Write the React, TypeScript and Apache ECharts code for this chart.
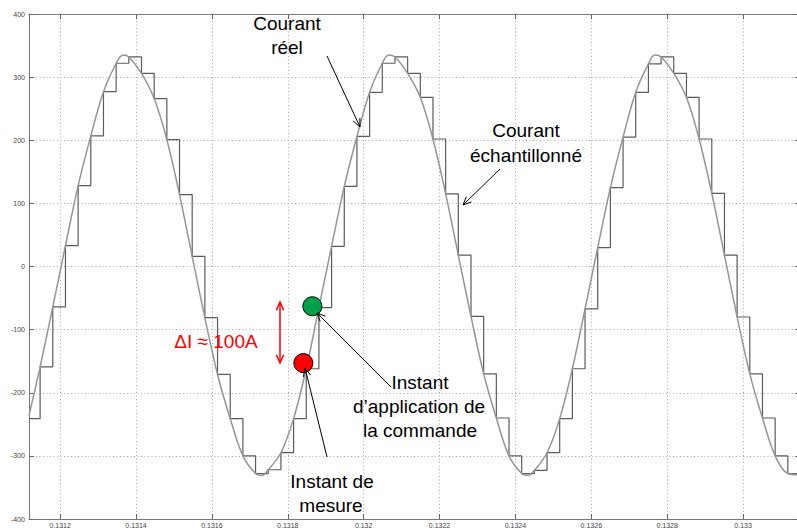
import React, { useEffect, useRef } from "react";
import * as echarts from "echarts";

// Axis extent (seconds / amperes)
const xMin = 0.131118;
const xMax = 0.13315;
const xStep = 0.0002;
const yMin = -400;
const yMax = 400;
const yStep = 100;

// Sampled current (zero-order hold): sampling instants and held values
const sampleTimes = [
  0.131118, 0.1311473, 0.1311807, 0.1312141, 0.1312475, 0.1312809, 0.1313143, 0.1313477,
  0.1313811, 0.1314145, 0.1314479, 0.1314813, 0.1315147, 0.1315481, 0.1315815, 0.1316149,
  0.1316483, 0.1316817, 0.1317151, 0.1317485, 0.1317819, 0.1318153, 0.1318487, 0.1318821,
  0.1319155, 0.1319489, 0.1319823, 0.1320157, 0.1320491, 0.1320825, 0.1321159, 0.1321493,
  0.1321827, 0.1322161, 0.1322495, 0.1322829, 0.1323163, 0.1323497, 0.1323831, 0.1324165,
  0.1324499, 0.1324833, 0.1325167, 0.1325501, 0.1325835, 0.1326169, 0.1326503, 0.1326837,
  0.1327171, 0.1327505, 0.1327839, 0.1328173, 0.1328507, 0.1328841, 0.1329175, 0.1329509,
  0.1329843, 0.1330177, 0.1330511, 0.1330845, 0.1331179, 0.13315,
];
const sampledValues = [
  -241, -159, -64, 33, 128, 207, 277, 322,
  332, 306, 266, 201, 114, 16, -81, -171,
  -241, -300, -328, -322, -295, -241, -162, -65,
  32, 127, 206, 276, 322, 332, 306, 268,
  202, 115, 18, -79, -170, -240, -300, -328,
  -323, -295, -241, -162, -67, 30, 125, 205,
  276, 321, 332, 306, 268, 202, 116, 18,
  -80, -170, -240, -300, -328, -328,
];

const realTimes = [
  0.131118, 0.1311473, 0.1311807, 0.1312141, 0.1312475, 0.1312809, 0.1313143, 0.1313477, 0.131366,
  0.1313811, 0.1314145, 0.1314479, 0.1314813, 0.1315147, 0.1315481, 0.1315815, 0.1316149,
  0.1316483, 0.1316817, 0.1317151, 0.1317318, 0.1317485, 0.1317819, 0.1318153, 0.1318487, 0.1318821,
  0.1319155, 0.1319489, 0.1319823, 0.1320157, 0.1320491, 0.1320658, 0.1320825, 0.1321159, 0.1321493,
  0.1321827, 0.1322161, 0.1322495, 0.1322829, 0.1323163, 0.1323497, 0.1323831, 0.1324165, 0.1324332,
  0.1324499, 0.1324833, 0.1325167, 0.1325501, 0.1325835, 0.1326169, 0.1326503, 0.1326837,
  0.1327171, 0.1327505, 0.1327672, 0.1327839, 0.1328173, 0.1328507, 0.1328841, 0.1329175, 0.1329509,
  0.1329843, 0.1330177, 0.1330511, 0.1330845, 0.1331179, 0.13315,
];
const realValues = [
  -236, -159, -64, 33, 128, 207, 277, 322, 335,
  332, 306, 266, 201, 114, 16, -81, -171,
  -241, -300, -328, -331, -322, -295, -241, -162, -65,
  32, 127, 206, 276, 322, 335, 332, 306, 268,
  202, 115, 18, -79, -170, -240, -300, -328, -331,
  -323, -295, -241, -162, -67, 30, 125, 205,
  276, 321, 335, 332, 306, 268, 202, 116, 18,
  -80, -170, -240, -300, -328, -330,
];

// Highlighted instants [time, current]
const measurePoint = [0.1318411, -153];
const commandPoint = [0.1318648, -63];

const FONT = "'Liberation Sans', Arial, sans-serif";

function arrowHead(x1: number, y1: number, x2: number, y2: number, L = 9, s = 0.42) {
  const a = Math.atan2(y2 - y1, x2 - x1);
  return [
    [x2 - L * Math.cos(a - s), y2 - L * Math.sin(a - s)],
    [x2, y2],
    [x2 - L * Math.cos(a + s), y2 - L * Math.sin(a + s)],
  ];
}

function arrow(x1: number, y1: number, x2: number, y2: number, color = "#000", width = 1) {
  return [
    { type: "line", z: 100, shape: { x1, y1, x2, y2 }, style: { stroke: color, lineWidth: width } },
    { type: "polyline", z: 100, shape: { points: arrowHead(x1, y1, x2, y2) }, style: { stroke: color, lineWidth: width, fill: null } },
  ];
}

function label(text: string, x: number, y: number, color = "#000", size = 19) {
  return {
    type: "text",
    z: 100,
    x,
    y,
    style: { text, fill: color, fontSize: size, fontFamily: FONT, textAlign: "center", textVerticalAlign: "middle" },
  };
}

export default function App() {
  const ref = useRef<HTMLDivElement>(null);
  useEffect(() => {
    const chart = echarts.init(ref.current!, null, { renderer: "svg" });
    const axisLine = { show: true, onZero: false, lineStyle: { color: "#777", width: 1 } };
    const axisTick = { show: true, inside: true, length: 5, lineStyle: { color: "#666" } };
    const splitLine = { show: true, lineStyle: { color: "#aaa", type: [1, 2.5], width: 1 } };
    const option: any = {
      animation: false,
      backgroundColor: "#fff",
      grid: { left: 29, right: -3, top: 14, bottom: 11, outerBoundsMode: "none", containLabel: false },
      xAxis: [
        {
          type: "value", min: xMin, max: xMax, minInterval: xStep, maxInterval: xStep, position: "bottom",
          axisLine, axisTick, splitLine,
          axisLabel: { fontSize: 7, color: "#444", fontFamily: FONT, margin: 3, showMinLabel: false, showMaxLabel: false },
        },
        {
          type: "value", min: xMin, max: xMax, minInterval: xStep, maxInterval: xStep, position: "top",
          axisLine, axisTick, splitLine: { show: false }, axisLabel: { show: false },
        },
      ],
      yAxis: [
        {
          type: "value", min: yMin, max: yMax, interval: yStep, position: "left",
          axisLine, axisTick, splitLine,
          axisLabel: { fontSize: 7, color: "#444", fontFamily: FONT, margin: 4 },
        },
        {
          type: "value", min: yMin, max: yMax, interval: yStep, position: "right",
          axisLine, axisTick, splitLine: { show: false }, axisLabel: { show: false },
        },
      ],
      series: [
        {
          name: "Courant échantillonné",
          type: "line",
          step: "end",
          showSymbol: false,
          data: sampleTimes.map((t, i) => [t, sampledValues[i]]),
          lineStyle: { color: "#5c5c5c", width: 1.2 },
          z: 3,
        },
        {
          name: "Courant réel",
          type: "line",
          smooth: 0.35,
          showSymbol: false,
          data: realTimes.map((t, i) => [t, realValues[i]]),
          lineStyle: { color: "#959595", width: 1.5 },
          z: 4,
        },
        {
          type: "scatter",
          symbolSize: 19,
          data: [
            { value: measurePoint, itemStyle: { color: "#ff0000" } },
            { value: commandPoint, itemStyle: { color: "#00a14b" } },
          ],
          itemStyle: { borderColor: "#000", borderWidth: 1, opacity: 1 },
          z: 5,
        },
      ],
      graphic: [
        label("Courant", 287, 23),
        label("réel", 287, 47),
        ...arrow(327, 56, 360, 127),
        label("Courant", 526, 130),
        label("échantillonné", 526, 155),
        ...arrow(500, 169, 463, 205),
        label("ΔI ≈ 100A", 216, 341, "#ff0000"),
        ...arrow(280, 332, 280, 302, "#ff0000", 1.5),
        ...arrow(280, 332, 280, 363, "#ff0000", 1.5),
        label("Instant", 420, 382),
        label("d\u2019application de", 419, 406),
        label("la commande", 420, 430),
        ...arrow(391, 387, 317, 313),
        label("Instant de", 332, 481),
        label("mesure", 331, 505),
        ...arrow(327, 457, 305, 368),
      ],
    };
    chart.setOption(option);
    return () => chart.dispose();
  }, []);
  return (
    <div
      ref={ref}
      style={{ position: "fixed", left: 0, top: 0, width: 797, height: 530, background: "#fff" }}
    />
  );
}
